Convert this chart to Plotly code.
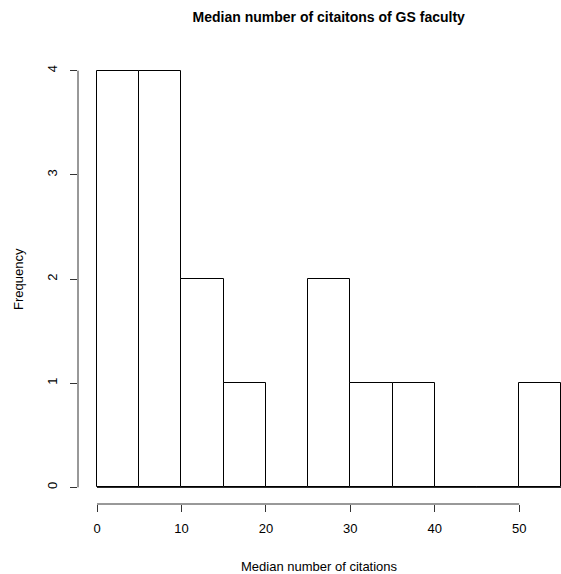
import plotly.graph_objects as go

bin_edges = [0, 5, 10, 15, 20, 25, 30, 35, 40, 45, 50, 55]
counts = [4, 4, 2, 1, 0, 2, 1, 1, 0, 0, 1]
x_ticks = [0, 10, 20, 30, 40, 50]
y_ticks = [0, 1, 2, 3, 4]
title = "Median number of citaitons of GS faculty"
x_title = "Median number of citations"
y_title = "Frequency"

centers = [(bin_edges[i] + bin_edges[i + 1]) / 2 for i in range(len(counts))]
widths = [bin_edges[i + 1] - bin_edges[i] for i in range(len(counts))]

FONT = "Liberation Sans, Arial, Helvetica, sans-serif"

fig = go.Figure()
fig.add_trace(go.Bar(
    x=centers, y=counts, width=widths,
    marker=dict(color="white", line=dict(color="black", width=1)),
    hoverinfo="x+y",
))

# baseline of histogram (R draws zero-height rects)
fig.add_shape(type="line", xref="x", yref="y", x0=bin_edges[0], x1=bin_edges[-1],
              y0=0, y1=0, line=dict(color="black", width=1), layer="below")
# R-style axis lines spanning tick range only
fig.add_shape(type="line", xref="x", yref="paper", x0=x_ticks[0], x1=x_ticks[-1],
              y0=0, y1=0, line=dict(color="#333", width=1))
fig.add_shape(type="line", xref="paper", yref="y", x0=0, x1=0,
              y0=y_ticks[0], y1=y_ticks[-1], line=dict(color="#333", width=1))

fig.update_layout(
    width=561, height=574,
    margin=dict(l=78, r=0, t=54, b=70),
    paper_bgcolor="white", plot_bgcolor="white",
    showlegend=False,
    bargap=0,
    font=dict(family=FONT, size=13, color="black"),
    title=dict(text="<b>" + title + "</b>", xref="container", x=0.586, xanchor="center",
               yref="container", y=0.97, yanchor="middle",
               font=dict(family=FONT, size=14, color="black")),
    xaxis=dict(range=[-2.25, 54.95], tickvals=x_ticks, ticks="outside", ticklen=7,
               tickcolor="#333", showline=False, showgrid=False, zeroline=False,
               ticklabelstandoff=5, tickfont=dict(size=13)),
    yaxis=dict(range=[-0.16, 4.16], tickvals=y_ticks, ticks="outside", ticklen=7,
               tickcolor="#333", showline=False, showgrid=False, zeroline=False,
               ticklabelstandoff=8, tickangle=-90, tickfont=dict(size=13)),
    annotations=[
        dict(text=x_title, xref="paper", yref="paper", x=0.5, y=0, yshift=-62,
             showarrow=False, xanchor="center", yanchor="middle", font=dict(size=13)),
        dict(text=y_title, xref="paper", yref="paper", x=0, xshift=-60, y=0.5,
             textangle=-90, showarrow=False, xanchor="center", yanchor="middle",
             font=dict(size=13)),
    ],
)

fig.write_html("out.html", config={"displayModeBar": False},
               post_script="document.body.style.margin='0';document.body.style.overflow='hidden';")
